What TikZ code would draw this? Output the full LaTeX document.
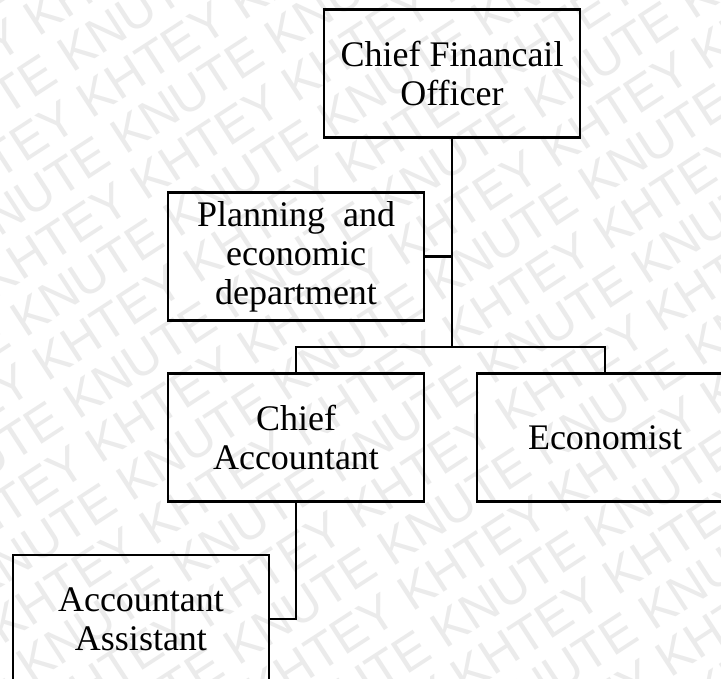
\documentclass[tikz,border=0pt]{standalone}
\usepackage{fontspec}
\setmainfont{Liberation Serif}
\newfontfamily\wmfont{Liberation Sans}
\begin{document}
\begin{tikzpicture}[x=1pt,y=-1pt,
  orgbox/.style={draw=black, line width=2.7pt, minimum width=256pt, minimum height=128pt,
    align=center, inner sep=0pt,
    font=\fontsize{36pt}{39pt}\selectfont},
  link/.style={draw=black, line width=2.7pt},
  wmark/.style={text=black!8, font=\wmfont\fontsize{50pt}{50pt}\selectfont,
    rotate=33, inner sep=0pt, anchor=west}]
\useasboundingbox (0,0) rectangle (721,679);
\clip (0,0) rectangle (721,679);
\fill[white] (0,0) rectangle (721,679);

% background watermark: alternating rows of the two words
\foreach \k in {-2,...,19}{
  \pgfmathsetmacro{\px}{62+\k*49*0.545-549*0.839}
  \pgfmathsetmacro{\py}{60+\k*49*0.839+549*0.545}
  \pgfmathparse{int(mod(\k+20,2))}
  \ifnum\pgfmathresult=0
    \node[wmark] (wm\k) at (\px,\py)
      {KNUTE KNUTE KNUTE KNUTE KNUTE KNUTE KNUTE KNUTE};
  \else
    \node[wmark] (wm\k) at (\px,\py)
      {KHTEY KHTEY KHTEY KHTEY KHTEY KHTEY KHTEY KHTEY};
  \fi
}

% boxes
\node[orgbox] (cfo)  at (452,73.5)  {Chief Financail\\Officer};
\node[orgbox] (plan) at (296,256.5) {Planning\hspace{9pt} and\\economic\\department};
\node[orgbox] (ca)   at (296,437.5) {Chief\\Accountant};
\node[orgbox] (eco)  at (605,437.5) {Economist};
\node[orgbox] (aa)   at (141,619)   {Accountant\\Assistant};

% connectors
\coordinate (bus) at (0,347);
\draw[link] (cfo.south) -- (cfo.south |- bus);
\draw[link] (plan.east) -- (plan.east -| cfo.south);
\draw[link] (ca.north) -- (ca.north |- bus) -| (eco.north);
\draw[link] (ca.south) |- (aa.east);
\end{tikzpicture}
\end{document}
